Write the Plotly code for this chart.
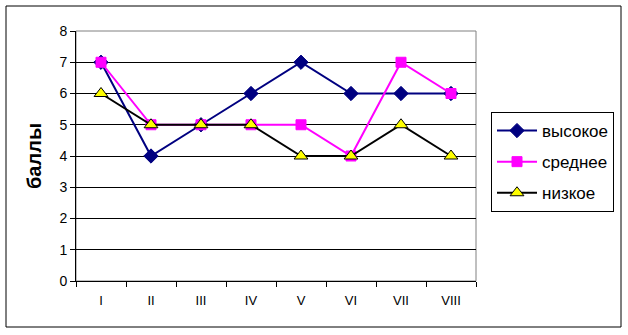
import plotly.graph_objects as go

categories = ["I", "II", "III", "IV", "V", "VI", "VII", "VIII"]
high = [7, 4, 5, 6, 7, 6, 6, 6]
medium = [7, 5, 5, 5, 5, 4, 7, 6]
low = [6, 5, 5, 5, 4, 4, 5, 4]
series_names = ["высокое", "среднее", "низкое"]

fig = go.Figure()
fig.add_trace(go.Scatter(x=categories, y=high, name=series_names[0], mode="lines+markers",
                         legendgroup="a",
                         line=dict(color="#000080", width=2),
                         marker=dict(symbol="diamond", size=11, color="#000080",
                                     line=dict(color="#000080", width=1))))
fig.add_trace(go.Scatter(x=categories, y=medium, name=series_names[1], mode="lines+markers",
                         legendgroup="b",
                         line=dict(color="#FF00FF", width=2),
                         marker=dict(symbol="square", size=10, color="#FF00FF",
                                     line=dict(color="#FF00FF", width=1))))
fig.add_trace(go.Scatter(x=categories, y=low, name=series_names[2], mode="lines+markers",
                         legendgroup="c",
                         line=dict(color="#000000", width=2),
                         marker=dict(symbol="triangle-up", size=12, color="#FFFF00",
                                     line=dict(color="#000000", width=1))))

W, H = 628, 335
L, R, T, B = 76, 152, 31, 54
pw, ph = W - L - R, H - T - B

def px(x):
    return (x - L) / pw

def py(y):
    return (H - B - y) / ph

fig.update_layout(
    width=W, height=H,
    margin=dict(l=L, r=R, t=T, b=B),
    paper_bgcolor="white", plot_bgcolor="white",
    font=dict(family="Liberation Sans, Arial", color="#000000", size=13),
    showlegend=True,
    legend=dict(x=px(491), y=py(112), xanchor="left", yanchor="top",
                bordercolor="#000000", borderwidth=1, bgcolor="white",
                font=dict(size=17), itemwidth=40, tracegroupgap=6),
    shapes=[
        dict(type="rect", xref="paper", yref="paper", x0=px(6), x1=px(621), y0=py(327), y1=py(6),
             line=dict(color="#000000", width=1), layer="below"),
        dict(type="rect", xref="paper", yref="paper", x0=0, x1=1, y0=0, y1=1,
             line=dict(color="#808080", width=1), layer="below"),
    ],
)
fig.update_xaxes(type="category", showgrid=False, showline=True, linecolor="#000000", linewidth=1,
                 ticks="outside", tickson="boundaries", ticklen=5, tickcolor="#000000",
                 tickfont=dict(size=13), ticklabelstandoff=7, range=[-0.5, 7.5])
fig.update_yaxes(range=[0, 8], dtick=1, showgrid=True, gridcolor="#000000", gridwidth=1,
                 showline=True, linecolor="#000000", linewidth=1, zeroline=False,
                 ticks="outside", ticklen=5, tickcolor="#000000", tickfont=dict(size=14),
                 title=dict(text="<b>баллы</b>", font=dict(size=20), standoff=12))

fig.write_html("out.html")
